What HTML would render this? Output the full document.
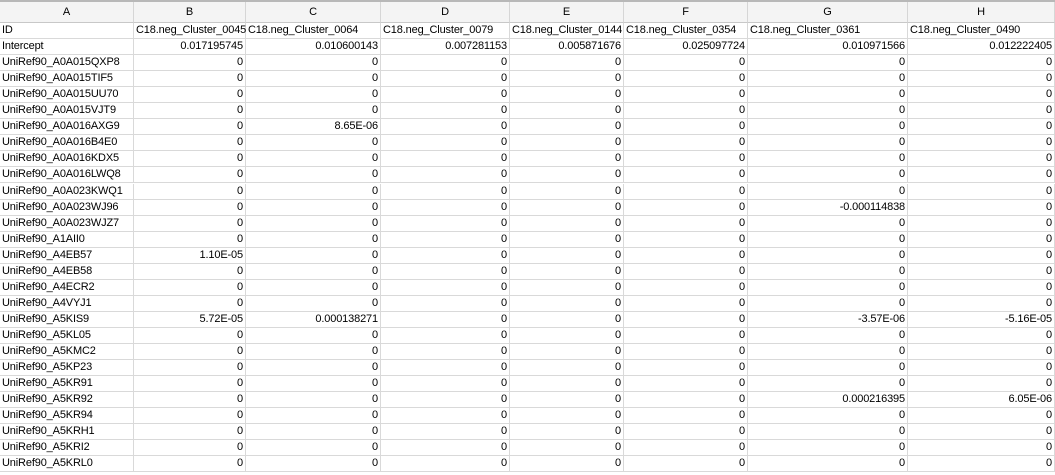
<!DOCTYPE html>
<html><head><meta charset="utf-8"><style>
html,body{margin:0;padding:0;background:#fff;width:1055px;height:475px;overflow:hidden}
#sheet{position:absolute;left:0;top:0;width:1055px;height:475px;font-family:"Liberation Sans",sans-serif;font-size:11px;letter-spacing:-0.15px;color:#000}
.topline{position:absolute;left:0;top:0;width:1055px;height:2px;background:#b8b8b8}
.hdr{position:absolute;top:2px;height:21px;background:#f4f4f4;border-right:1px solid #d6d6d6;border-bottom:1px solid #c8c8c8;box-sizing:border-box;text-align:center;line-height:20px}
.cell{position:absolute;height:16px;box-sizing:border-box;border-right:1px solid #d9d9d9;border-bottom:1px solid #d9d9d9;line-height:15px;white-space:nowrap;overflow:visible;padding:0 2px}
.r{text-align:right}
</style></head><body>
<div id="sheet">
<div class="topline"></div>
</div>
<script>
const colLetters=["A","B","C","D","E","F","G","H"];
const colLefts=[0,134,246,381,510,624,748,908];
const colWidths=[134,112,135,129,114,124,160,147];
const headers=["ID","C18.neg_Cluster_0045","C18.neg_Cluster_0064","C18.neg_Cluster_0079","C18.neg_Cluster_0144","C18.neg_Cluster_0354","C18.neg_Cluster_0361","C18.neg_Cluster_0490"];
const rowIds=["Intercept","UniRef90_A0A015QXP8","UniRef90_A0A015TIF5","UniRef90_A0A015UU70","UniRef90_A0A015VJT9","UniRef90_A0A016AXG9","UniRef90_A0A016B4E0","UniRef90_A0A016KDX5","UniRef90_A0A016LWQ8","UniRef90_A0A023KWQ1","UniRef90_A0A023WJ96","UniRef90_A0A023WJZ7","UniRef90_A1AII0","UniRef90_A4EB57","UniRef90_A4EB58","UniRef90_A4ECR2","UniRef90_A4VYJ1","UniRef90_A5KIS9","UniRef90_A5KL05","UniRef90_A5KMC2","UniRef90_A5KP23","UniRef90_A5KR91","UniRef90_A5KR92","UniRef90_A5KR94","UniRef90_A5KRH1","UniRef90_A5KRI2","UniRef90_A5KRL0"];
const special={
 "0":["0.017195745","0.010600143","0.007281153","0.005871676","0.025097724","0.010971566","0.012222405"],
 "5":[null,"8.65E-06"],
 "10":[null,null,null,null,null,"-0.000114838"],
 "13":["1.10E-05"],
 "17":["5.72E-05","0.000138271",null,null,null,"-3.57E-06","-5.16E-05"],
 "22":[null,null,null,null,null,"0.000216395","6.05E-06"]
};
const sheet=document.getElementById('sheet');
colLetters.forEach((L,i)=>{
 const d=document.createElement('div');d.className='hdr';
 d.style.left=colLefts[i]+'px';d.style.width=colWidths[i]+'px';d.textContent=L;
 
 
 sheet.appendChild(d);
});
const top0=23,rh=16.05;
function cell(r,c,txt,right){
 const d=document.createElement('div');d.className='cell'+(right?' r':'');
 d.style.left=colLefts[c]+'px';d.style.width=colWidths[c]+'px';
 d.style.top=(top0+r*rh)+'px';d.textContent=txt;
 
 
 sheet.appendChild(d);
}
headers.forEach((h,c)=>cell(0,c,h,false));
rowIds.forEach((id,i)=>{
 const r=i+1;cell(r,0,id,false);
 const sp=special[String(i)]||[];
 for(let c=1;c<8;c++){const v=sp[c-1];cell(r,c,v==null?"0":v,true);}
});
</script>
</body></html>
